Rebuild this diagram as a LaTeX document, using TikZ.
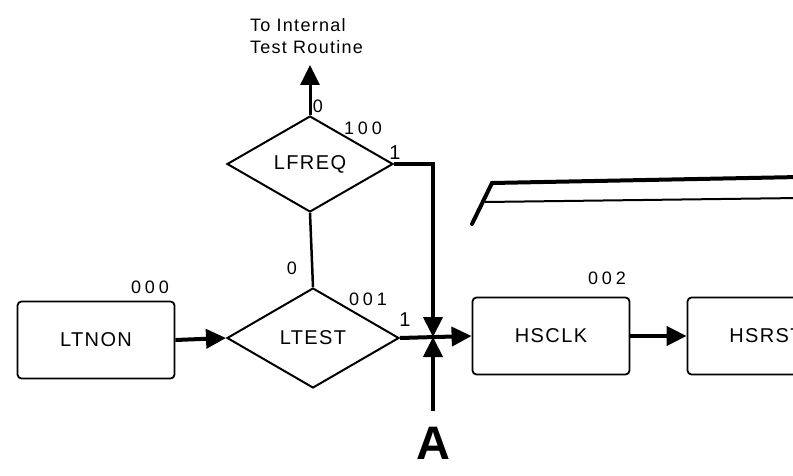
\documentclass[tikz,border=0pt]{standalone}
\usepackage{fontspec}
\setmainfont{Liberation Sans}
\newfontfamily\lblfont[LetterSpace=7]{Liberation Sans}
\newfontfamily\numfont[LetterSpace=22]{Liberation Sans}
\usetikzlibrary{positioning, arrows.meta, shapes.geometric}

\begin{document}
\begin{tikzpicture}[x=1pt, y=-1pt, >={Triangle[length=20pt, width=19pt]},
    block/.style={draw, rounded corners=4pt, line width=1.8pt,
                  minimum width=157pt, minimum height=77pt,
                  font=\lblfont\fontsize{20}{22}\selectfont},
    decision/.style={draw, diamond, line width=2pt, inner sep=0pt,
                  minimum width=172pt, minimum height=100pt,
                  font=\lblfont\fontsize{20}{22}\selectfont},
    conn/.style={->, line width=4pt},
    lbl/.style={inner sep=0pt, font=\lblfont\fontsize{18}{22}\selectfont},
    num/.style={inner sep=0pt, font=\numfont\fontsize{18}{22}\selectfont}]
    \useasboundingbox (0,0) rectangle (793,476);
    \clip (0,0) rectangle (793,476);
    % boxes and decisions
    \node[block] (ltnon) at (96,340) {LTNON};
    \node[decision] (ltest) at (313,338) {LTEST};
    \node[decision, minimum width=166pt, minimum height=96pt] (lfreq) at (310,164) {LFREQ};
    \node[block] (hsclk) at (551,336) {HSCLK};
    \node[block] (hsrst) at (766,336) {HSRST};
    \coordinate (j) at (433,337);
    \coordinate (tip) at (310,65);
    % labels
    \node[lbl, anchor=west, align=left] (dest) at (250,36) {To Internal\\Test Routine};
    \node[num] (n000) at (150,287) {000};
    \node[num] (n001) at (368,299) {001};
    \node[num] (n100) at (363,128) {100};
    \node[num] (n002) at (607,278) {002};
    \node[lbl, font=\fontsize{18}{20}\selectfont] (z1) at (292,268) {0};
    \node[lbl, font=\fontsize{18}{20}\selectfont] (z2) at (318,106) {0};
    \node[lbl, font=\fontsize{20}{22}\selectfont] (o1) at (405,320) {1};
    \node[lbl, font=\fontsize{20}{22}\selectfont] (o2) at (395,153) {1};
    \node[inner xsep=0pt, inner ysep=16pt, font=\bfseries\fontsize{47}{50}\selectfont] (a) at (433,443) {A};
    % connectors
    \draw[conn] (ltnon.east) -- (ltest.west);
    \draw[line width=2.5pt] (lfreq.south) -- (ltest.north);
    \draw[conn, line width=3pt] (lfreq.north) -- (tip);
    \draw[conn] (lfreq.east) -| (j);
    \draw[conn] (a.north) -- (j);
    \draw[conn] (ltest.east) -- (hsclk.west);
    \draw[conn] (hsclk.east) -- (hsrst.west);
    % edge of the next sheet
    \draw[line width=4pt, line cap=round] (472,224) -- (492,183) -- (800,177);
    \draw[line width=2pt] (485,202) -- (800,198);
\end{tikzpicture}
\end{document}
